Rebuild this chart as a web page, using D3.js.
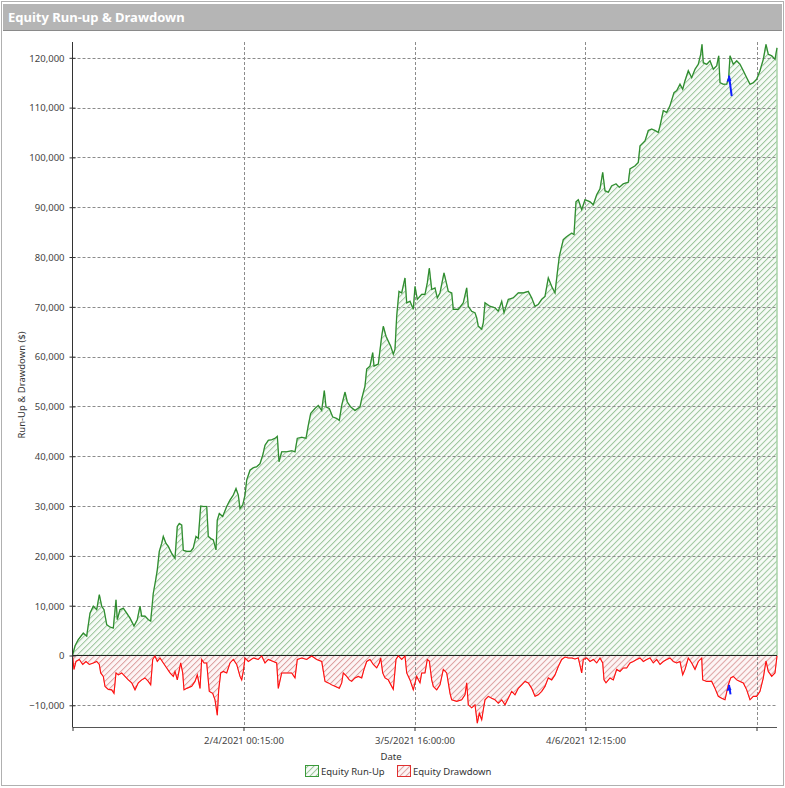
<!DOCTYPE html>
<html>
<head>
<meta charset="utf-8">
<script src="https://cdn.jsdelivr.net/npm/d3@7.9.0/dist/d3.min.js"></script>
<style>
  body { margin: 0; background: #fff; }
  svg { display: block; }
</style>
</head>
<body>
<svg id="chart"></svg>
<script>
// bar number (x) and equity run-up in $
const runUpBars = [0, 25, 58, 108, 142, 175, 208, 242, 268, 292, 315, 342, 375, 408, 435, 448, 475, 508, 542, 575,
  615, 648, 675, 692, 725, 758, 782, 808, 832, 848, 868, 892, 908, 935, 958, 992, 1025, 1048, 1068, 1092,
  1108, 1142, 1182, 1208, 1235, 1258, 1282, 1308, 1342, 1358, 1382, 1408, 1435, 1448, 1468, 1502, 1542, 1575, 1608, 1635,
  1658, 1675, 1702, 1725, 1742, 1775, 1808, 1842, 1875, 1902, 1925, 1958, 1992, 2025, 2048, 2065, 2092, 2142, 2192, 2225,
  2248, 2292, 2335, 2358, 2382, 2425, 2458, 2492, 2518, 2535, 2568, 2602, 2642, 2668, 2692, 2725, 2748, 2782, 2825, 2875,
  2892, 2925, 2942, 2975, 3002, 3015, 3058, 3092, 3108, 3135, 3158, 3182, 3208, 3225, 3242, 3265, 3292, 3325, 3342, 3375,
  3408, 3425, 3448, 3492, 3525, 3548, 3568, 3592, 3625, 3648, 3675, 3715, 3742, 3758, 3792, 3808, 3858, 3908, 3942, 3958,
  3992, 4025, 4042, 4058, 4092, 4108, 4125, 4175, 4225, 4258, 4292, 4315, 4358, 4408, 4458, 4508, 4558, 4592, 4625, 4658,
  4692, 4725, 4758, 4792, 4825, 4848, 4868, 4908, 4942, 4992, 5015, 5035, 5058, 5092, 5125, 5175, 5208, 5242, 5275, 5302,
  5325, 5358, 5392, 5435, 5468, 5508, 5558, 5575, 5625, 5658, 5675, 5725, 5758, 5792, 5825, 5858, 5875, 5908, 5942, 5975,
  6015, 6042, 6075, 6102, 6125, 6158, 6192, 6225, 6258, 6282, 6295, 6308, 6342, 6375, 6408, 6442, 6462, 6475, 6508, 6542,
  6562, 6575, 6608, 6642, 6675, 6708, 6742, 6775, 6808, 6842, 6875, 6908, 6935, 6958, 6992, 7025, 7045];
const runUpEquity = [0, 1900, 3200, 4500, 3900, 8500, 9900, 9200, 12200, 9900, 9200, 6200, 5700, 5500, 11200, 7200, 9200, 9500, 8500, 7500,
  5900, 7200, 9900, 7900, 7900, 7200, 6900, 12500, 15200, 17200, 20900, 22500, 23900, 22500, 21900, 20500, 19500, 25900, 26500, 26200,
  21100, 20900, 20900, 21600, 23900, 23500, 30000, 29900, 29900, 23900, 23500, 23200, 21200, 27200, 28500, 27900, 29900, 31200, 32200, 33500,
  32200, 29500, 30200, 32200, 35200, 37200, 37700, 37900, 38500, 40200, 42200, 43200, 43300, 43600, 44000, 38900, 40900, 40900, 41100, 40900,
  43600, 43800, 43600, 46200, 48600, 49600, 50200, 49200, 53200, 49900, 49600, 47900, 47600, 47200, 50200, 52900, 50900, 49900, 49200, 49900,
  51500, 54100, 57500, 58100, 60800, 58100, 58500, 64100, 66100, 64100, 63100, 62100, 60500, 61500, 68100, 73100, 72800, 75800, 70800, 71100,
  69500, 74100, 71500, 72500, 72500, 74800, 77800, 73500, 73800, 71800, 72800, 76800, 74500, 73100, 72800, 69500, 69500, 70800, 73800, 70100,
  69100, 68800, 67800, 66100, 65500, 66800, 70800, 70100, 69800, 69100, 71100, 68800, 71500, 71800, 72800, 72800, 73100, 71800, 70100, 70500,
  71500, 72100, 75800, 74100, 72800, 76800, 80100, 83500, 84100, 84800, 84500, 91100, 91500, 89500, 91500, 91100, 90500, 92500, 93700, 97000,
  93300, 93000, 94300, 94700, 94000, 94700, 95000, 97700, 98300, 99000, 102300, 103300, 105400, 105700, 105400, 105000, 106300, 109400, 109000, 110400,
  113000, 113400, 114700, 113700, 115400, 117400, 116000, 117700, 118700, 120700, 122700, 119000, 118700, 119400, 117700, 118400, 120400, 115000, 114700, 114700,
  116000, 120400, 118700, 119400, 118700, 117400, 116000, 114700, 115000, 115700, 117400, 119700, 122700, 120700, 120400, 119700, 122000];

// bar number and equity drawdown in $
const drawdownBars = [0, 15, 35, 68, 102, 135, 168, 208, 242, 268, 282, 308, 325, 358, 392, 415, 435, 458, 492, 525,
  558, 592, 625, 658, 692, 725, 758, 782, 802, 825, 848, 875, 908, 942, 975, 1008, 1025, 1048, 1082, 1102,
  1115, 1142, 1192, 1225, 1248, 1275, 1292, 1315, 1342, 1368, 1402, 1425, 1448, 1462, 1482, 1508, 1542, 1575, 1608, 1642,
  1675, 1692, 1708, 1725, 1758, 1808, 1858, 1892, 1925, 1958, 2008, 2042, 2058, 2092, 2142, 2192, 2225, 2248, 2292, 2342,
  2392, 2442, 2492, 2525, 2558, 2592, 2625, 2668, 2692, 2708, 2742, 2768, 2792, 2825, 2858, 2892, 2915, 2942, 2975, 3008,
  3042, 3068, 3082, 3102, 3125, 3158, 3192, 3208, 3235, 3258, 3292, 3325, 3342, 3375, 3408, 3442, 3475, 3492, 3525, 3548,
  3568, 3592, 3608, 3642, 3675, 3708, 3742, 3775, 3792, 3842, 3892, 3925, 3942, 3958, 3992, 4025, 4048, 4068, 4092, 4108,
  4125, 4158, 4192, 4225, 4258, 4292, 4325, 4358, 4392, 4425, 4458, 4492, 4525, 4558, 4592, 4625, 4658, 4692, 4725, 4758,
  4792, 4825, 4858, 4892, 4925, 4958, 4992, 5025, 5058, 5092, 5108, 5142, 5175, 5208, 5242, 5275, 5302, 5315, 5335, 5375,
  5408, 5442, 5475, 5508, 5542, 5575, 5608, 5642, 5675, 5708, 5742, 5775, 5808, 5842, 5875, 5908, 5942, 5975, 6008, 6042,
  6075, 6102, 6125, 6158, 6192, 6225, 6258, 6292, 6302, 6342, 6392, 6425, 6458, 6492, 6525, 6558, 6582, 6608, 6642, 6675,
  6708, 6742, 6775, 6808, 6842, 6875, 6908, 6935, 6958, 6992, 7025, 7045];
const drawdownEquity = [0, -2800, -1200, -800, -1800, -1200, -1800, -1500, -1200, -1800, -3500, -4200, -6200, -6800, -6900, -7600, -3500, -3900, -3500, -4200,
  -4900, -5500, -6900, -5500, -4900, -4500, -5200, -5900, -800, -100, -1200, -500, -1500, -2500, -3500, -4200, -3200, -4900, -1500, -3500,
  -6900, -6600, -6200, -5200, -3900, -6600, -800, -1500, -1500, -7200, -7600, -8900, -12000, -6900, -3500, -3200, -3500, -1500, -800, -1800,
  -4200, -4900, -3200, -500, -1200, -500, -800, -100, -1500, -800, -1200, -1500, -6600, -3500, -3500, -3500, -4500, -800, -500, -800,
  -100, -800, -1200, -5200, -5500, -5900, -6200, -6600, -5500, -3500, -4200, -4900, -5200, -4500, -4200, -4500, -2800, -1200, -800, -1800,
  -2500, -1500, -500, -3500, -4500, -4900, -6200, -6800, -800, -100, -800, -100, -3500, -4900, -6900, -4200, -5500, -3500, -3500, -800,
  -1100, -4900, -6200, -6900, -5900, -2800, -3500, -7600, -8900, -9200, -8900, -7900, -5500, -9900, -10500, -9900, -13600, -11600, -12900, -10900,
  -8900, -8200, -8600, -8900, -9600, -8900, -9900, -8600, -7200, -7900, -6600, -5900, -5200, -5500, -6600, -8200, -7900, -7200, -6200, -4500,
  -4900, -3900, -2200, -800, -300, -500, -500, -700, -500, -3500, -800, -500, -1200, -800, -1500, -500, -1500, -4900, -5500, -4500,
  -4900, -2800, -3200, -2500, -2500, -1500, -1200, -800, -500, -1200, -800, -500, -1500, -800, -1800, -1200, -800, -500, -1200, -1500,
  -1200, -3900, -2800, -500, -1500, -2800, -1200, -500, -4900, -5200, -5200, -6600, -8200, -8600, -8900, -5900, -4500, -4200, -4900, -5200,
  -5500, -6900, -8900, -8200, -8200, -7200, -4500, -1100, -3200, -4200, -3500, -100];

// blue arrow marks (tail bar, tip bar, tail value, tip value)
const markRunUp = [6592, 6565, 112300, 116400];
const markDrawdown = [6580, 6565, -7800, -5900];

const yTicks = [-10000, 0, 10000, 20000, 30000, 40000, 50000, 60000, 70000, 80000, 90000, 100000, 110000, 120000];
const xTickBars = [0, 1710, 3420, 5130, 6840];
const xTickLabels = ["", "2/4/2021 00:15:00", "3/5/2021 16:00:00", "4/6/2021 12:15:00", ""];

const W = 785, H = 788;
const plotLeft = 72.5, plotRight = 777, plotTop = 42, plotBottom = 727;
const font = "'Noto Sans', 'Open Sans', sans-serif";

const svg = d3.select("#chart").attr("width", W).attr("height", H);
const defs = svg.append("defs");

// diagonal hatch: thin rect in a tile rotated 45 degrees
function hatch(id, base, color) {
    const p = defs.append("pattern")
        .attr("id", id)
        .attr("patternUnits", "userSpaceOnUse")
        .attr("width", 4.24)
        .attr("height", 4.24)
        .attr("patternTransform", "rotate(45)");
    p.append("rect").attr("width", 4.24).attr("height", 4.24).attr("fill", base);
    p.append("rect").attr("width", 1).attr("height", 4.24).attr("fill", color);
}
hatch("hatchGreen", "#f7fbf7", "#9cc59c");
hatch("hatchRed", "#fdf6f6", "#dca0a0");

// frame and title bar
svg.append("rect").attr("x", 1.5).attr("y", 1.5).attr("width", W - 3).attr("height", H - 4)
    .attr("fill", "#fff").attr("stroke", "#b0b0b0");
svg.append("rect").attr("x", 3).attr("y", 4).attr("width", W - 6).attr("height", 26)
    .attr("fill", "#b5b5b5");
svg.append("line").attr("x1", 3).attr("x2", W - 3).attr("y1", 30.5).attr("y2", 30.5)
    .attr("stroke", "#8a8a8a");
svg.append("text").attr("x", 8).attr("y", 22)
    .style("font-family", font).style("font-size", "13px").style("font-weight", "bold")
    .attr("fill", "#fff").text("Equity Run-up & Drawdown");

const xScale = d3.scaleLinear().domain([0, 7045]).range([plotLeft, plotRight]);
const yScale = d3.scaleLinear().domain([-10000, 120000]).range([705.3, 57.8]);

const runUp = runUpBars.map((b, i) => ({ bar: b, v: runUpEquity[i] }));
const drawdown = drawdownBars.map((b, i) => ({ bar: b, v: drawdownEquity[i] }));

const area = d3.area().x(d => xScale(d.bar)).y0(yScale(0)).y1(d => yScale(d.v));
const line = d3.line().x(d => xScale(d.bar)).y(d => yScale(d.v));

svg.append("path").datum(runUp).attr("d", area)
    .attr("fill", "url(#hatchGreen)").attr("stroke", "#a9d3a9").attr("stroke-width", 1.5);
svg.append("path").datum(drawdown).attr("d", area)
    .attr("fill", "url(#hatchRed)").attr("stroke", "#f3a6a6").attr("stroke-width", 1);

// grid
const grid = svg.append("g").attr("stroke", "#8c8c8c").attr("stroke-dasharray", "3,2");
grid.selectAll(".hg").data(yTicks.filter(t => t !== 0)).enter().append("line")
    .attr("x1", plotLeft).attr("x2", plotRight)
    .attr("y1", d => Math.round(yScale(d)) + 0.5).attr("y2", d => Math.round(yScale(d)) + 0.5);
grid.selectAll(".vg").data(xTickBars.slice(1)).enter().append("line")
    .attr("x1", d => Math.round(xScale(d)) + 0.5).attr("x2", d => Math.round(xScale(d)) + 0.5)
    .attr("y1", plotTop).attr("y2", plotBottom);

// zero line
svg.append("line").attr("x1", plotLeft).attr("x2", plotRight)
    .attr("y1", Math.round(yScale(0)) + 0.5).attr("y2", Math.round(yScale(0)) + 0.5)
    .attr("stroke", "#222");

svg.append("path").datum(runUp).attr("d", line)
    .attr("fill", "none").attr("stroke", "#2b8a2b").attr("stroke-width", 1.1);
svg.append("path").datum(drawdown).attr("d", line)
    .attr("fill", "none").attr("stroke", "#ff1010").attr("stroke-width", 1.1);

// blue marks
function mark(m) {
    const x1 = xScale(m[0]), x2 = xScale(m[1]), y1 = yScale(m[2]), y2 = yScale(m[3]);
    svg.append("line").attr("x1", x1).attr("y1", y1).attr("x2", x2).attr("y2", y2)
        .attr("stroke", "#1020ff").attr("stroke-width", 2);
    svg.append("path")
        .attr("d", `M${x2},${y2} L${x2 - 2.5},${y2 + 6} L${x2 + 2.5},${y2 + 5} Z`)
        .attr("fill", "#1020ff");
}
mark(markRunUp);
mark(markDrawdown);

// y axis
const yAxis = svg.append("g").attr("transform", `translate(${plotLeft},0)`)
    .call(d3.axisLeft(yScale).tickValues(yTicks).tickSize(3).tickFormat(d3.format(",")));
yAxis.select(".domain").attr("d", `M0,${plotTop}V${plotBottom}`).attr("stroke", "#333");
yAxis.selectAll(".tick line").attr("x2", -3).attr("x1", 3).attr("stroke", "#333");
yAxis.selectAll("text").attr("x", -8).attr("dy", "0.35em")
    .style("font-family", font).style("font-size", "9.5px").attr("fill", "#444");

// x axis
const xAxis = svg.append("g").attr("transform", `translate(0,${plotBottom})`)
    .call(d3.axisBottom(xScale).tickValues(xTickBars).tickSize(4)
        .tickFormat((d, i) => xTickLabels[i]));
xAxis.select(".domain").attr("d", `M${plotLeft},0.5H${plotRight}`).attr("stroke", "#555");
xAxis.selectAll(".tick line").attr("stroke", "#333");
xAxis.selectAll("text").attr("y", 10)
    .style("font-family", font).style("font-size", "9.5px").attr("fill", "#444");

// axis titles
svg.append("text").attr("transform", "rotate(-90)")
    .attr("x", -385).attr("y", 25).attr("text-anchor", "middle")
    .style("font-family", font).style("font-size", "9.5px").attr("fill", "#333")
    .text("Run-Up & Drawdown ($)");
svg.append("text").attr("x", 391).attr("y", 760).attr("text-anchor", "middle")
    .style("font-family", font).style("font-size", "9.5px").attr("fill", "#333")
    .text("Date");

// legend
const legendItems = [
    { label: "Equity Run-Up", fill: "url(#hatchGreen)", stroke: "#3a9a3a", x: 305 },
    { label: "Equity Drawdown", fill: "url(#hatchRed)", stroke: "#e03030", x: 397 }
];
const legend = svg.append("g");
legendItems.forEach(item => {
    legend.append("rect").attr("x", item.x + 0.5).attr("y", 765.5).attr("width", 13).attr("height", 11)
        .attr("fill", item.fill).attr("stroke", item.stroke);
    legend.append("text").attr("x", item.x + 16).attr("y", 775)
        .style("font-family", font).style("font-size", "9.5px").attr("fill", "#333")
        .text(item.label);
});
</script>
</body>
</html>
